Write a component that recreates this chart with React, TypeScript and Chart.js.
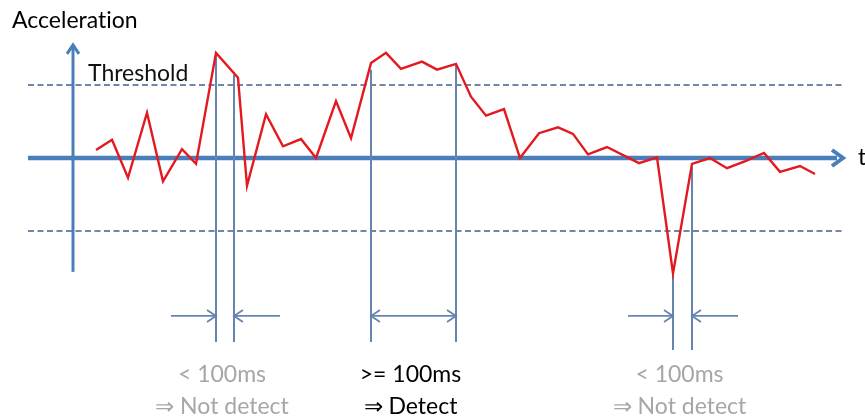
import React, { useEffect, useRef } from "react";
import { Chart, registerables } from "chart.js";

Chart.register(...registerables);

// ---- data ----
const sampleTimes = [23, 39, 55, 74, 90, 109, 123, 143, 165, 174, 193, 210, 228, 243, 263, 278, 298, 313, 328, 349, 364, 383, 398, 413, 431, 447, 466, 485, 500, 515, 534, 566, 584, 600, 619, 637, 654, 673, 691, 707, 727, 742];
const accelValues = [0.11, 0.25, -0.27, 0.62, -0.32, 0.12, -0.08, 1.44, 1.1, -0.38, 0.6, 0.16, 0.26, 0.0, 0.78, 0.27, 1.3, 1.44, 1.22, 1.32, 1.21, 1.29, 0.84, 0.58, 0.67, 0.0, 0.34, 0.42, 0.33, 0.05, 0.15, -0.07, 0.01, -1.58, -0.08, 0.0, -0.14, -0.04, 0.07, -0.19, -0.11, -0.22];
const thresholdLevels = [1, -1];

const windowStart = [143, 298, 600];
const windowEnd = [161, 383, 619];
const windowStartAccel = [1.44, 1.21, -1.58];
const windowEndAccel = [1.14, 1.29, -0.12];
const durationLabels = ["< 100ms", ">= 100ms", "< 100ms"];
const outcomeLabels = ["\u21D2 Not detect", "\u21D2 Detect", "\u21D2 Not detect"];
const detected = [false, true, false];

// ---- layout / style ----
const X_MIN = -73, X_MAX = 792;
const Y_MIN = -3.5616, Y_MAX = 2.1644;
const AXIS_T0 = -45, AXIS_T1 = 768;
const Y_AXIS_LOW = -1.56, Y_AXIS_HIGH = 1.55;
const markerBottoms = [-2.52, -2.52, -2.63];
const arrowLevel = -2.164;
const arrowLead = 45;
const durationLevel = -2.96;
const outcomeLevel = -3.41;
const FONT = "Lato, 'Open Sans', sans-serif";
const AXIS_BLUE = "#4a7ebb";
const MARK_BLUE = "#6684b0";
const DASH_COLOR = "#6f86a6";
const RED = "#e3191f";

type P = { x: number; y: number };
type ArrowSpec = { tip: P; tail: P; len: number; half: number; width: number; color: string };

// break typographic ligatures (e.g. "ti") without changing the text
const noLig = (s: string) => s.replace(/t(?=[ifl])/g, "t\u200C").replace(/f(?=[ifl])/g, "f\u200C");

export default function App() {
  const ref = useRef<HTMLCanvasElement | null>(null);

  useEffect(() => {
    document.body.style.margin = "0";
    const canvas = ref.current;
    if (!canvas) return;

    const seg = (a: P, b: P, color: string, width: number, order: number, dash: number[] = []) => ({
      type: "scatter" as const,
      data: [a, b],
      showLine: true,
      borderColor: color,
      borderWidth: width,
      borderDash: dash,
      pointRadius: 0,
      order,
      tension: 0,
      borderCapStyle: "butt" as const,
    });

    const datasets: any[] = [];
    datasets.push({
      type: "scatter",
      data: sampleTimes.map((t, i) => ({ x: t, y: accelValues[i] })),
      showLine: true,
      borderColor: RED,
      borderWidth: 2.4,
      pointRadius: 0,
      tension: 0,
      order: 0,
      borderJoinStyle: "miter",
    });
    datasets.push(seg({ x: AXIS_T0, y: 0 }, { x: AXIS_T1 - 4, y: 0 }, AXIS_BLUE, 4.5, 6));
    datasets.push(seg({ x: 0, y: Y_AXIS_LOW }, { x: 0, y: Y_AXIS_HIGH - 0.03 }, AXIS_BLUE, 3, 6));
    thresholdLevels.forEach((lv) => {
      datasets.push(seg({ x: AXIS_T0, y: lv }, { x: AXIS_T1 + 3, y: lv }, DASH_COLOR, 1.8, 7, [6, 3.5]));
    });

    const arrows: ArrowSpec[] = [
      { tip: { x: AXIS_T1 + 2, y: 0 }, tail: { x: AXIS_T0, y: 0 }, len: 11, half: 8, width: 4, color: AXIS_BLUE },
      { tip: { x: 0, y: Y_AXIS_HIGH }, tail: { x: 0, y: Y_AXIS_LOW }, len: 9, half: 6, width: 3, color: AXIS_BLUE },
    ];

    windowStart.forEach((s, i) => {
      const e = windowEnd[i];
      const bottom = markerBottoms[i];
      datasets.push(seg({ x: s, y: windowStartAccel[i] }, { x: s, y: bottom }, MARK_BLUE, 2, 3));
      datasets.push(seg({ x: e, y: windowEndAccel[i] }, { x: e, y: bottom }, MARK_BLUE, 2, 3));
      if (detected[i]) {
        datasets.push(seg({ x: s, y: arrowLevel }, { x: e, y: arrowLevel }, MARK_BLUE, 1.8, 3));
        arrows.push({ tip: { x: s, y: arrowLevel }, tail: { x: e, y: arrowLevel }, len: 9, half: 6, width: 1.8, color: MARK_BLUE });
        arrows.push({ tip: { x: e, y: arrowLevel }, tail: { x: s, y: arrowLevel }, len: 9, half: 6, width: 1.8, color: MARK_BLUE });
      } else {
        datasets.push(seg({ x: s - arrowLead, y: arrowLevel }, { x: s, y: arrowLevel }, MARK_BLUE, 1.8, 3));
        datasets.push(seg({ x: e + arrowLead + 1, y: arrowLevel }, { x: e, y: arrowLevel }, MARK_BLUE, 1.8, 3));
        arrows.push({ tip: { x: s, y: arrowLevel }, tail: { x: s - arrowLead, y: arrowLevel }, len: 9, half: 6, width: 1.8, color: MARK_BLUE });
        arrows.push({ tip: { x: e, y: arrowLevel }, tail: { x: e + arrowLead, y: arrowLevel }, len: 9, half: 6, width: 1.8, color: MARK_BLUE });
      }
    });

    type TextSpec = { text: string; x: number; y: number; align: CanvasTextAlign; color: string; size: number };
    const texts: TextSpec[] = [
      { text: "Acceleration", x: -61, y: 1.88, align: "left", color: "#000", size: 23 },
      { text: "Threshold", x: 15, y: 1.15, align: "left", color: "#111", size: 23 },
      { text: "t", x: 785, y: 0, align: "left", color: "#000", size: 23 },
    ];
    windowStart.forEach((s, i) => {
      const c = (s + windowEnd[i]) / 2 - 3;
      const col = detected[i] ? "#000" : "#a6a6a6";
      texts.push({ text: durationLabels[i], x: c, y: durationLevel, align: "center", color: col, size: 23 });
      texts.push({ text: outcomeLabels[i], x: c, y: outcomeLevel, align: "center", color: col, size: 23 });
    });

    const overlay = {
      id: "overlay",
      afterDatasetsDraw(chart: any) {
        const ctx: CanvasRenderingContext2D = chart.ctx;
        const xs = chart.scales.x, ys = chart.scales.y;
        const px = (p: P) => ({ x: xs.getPixelForValue(p.x), y: ys.getPixelForValue(p.y) });
        ctx.save();
        arrows.forEach((a) => {
          const tip = px(a.tip), tail = px(a.tail);
          const dx = tip.x - tail.x, dy = tip.y - tail.y;
          const L = Math.hypot(dx, dy) || 1;
          const ux = dx / L, uy = dy / L;
          const nx = -uy, ny = ux;
          const bx = tip.x - ux * a.len, by = tip.y - uy * a.len;
          ctx.beginPath();
          ctx.moveTo(bx + nx * a.half, by + ny * a.half);
          ctx.lineTo(tip.x, tip.y);
          ctx.lineTo(bx - nx * a.half, by - ny * a.half);
          ctx.strokeStyle = a.color;
          ctx.lineWidth = a.width;
          ctx.lineJoin = "miter";
          ctx.lineCap = "butt";
          ctx.stroke();
        });
        texts.forEach((t) => {
          const p = px({ x: t.x, y: t.y });
          ctx.font = `${t.size}px ${FONT}`;
          ctx.fillStyle = t.color;
          ctx.textAlign = t.align;
          ctx.textBaseline = "middle";
          ctx.fillText(noLig(t.text), p.x, p.y);
        });
        ctx.restore();
      },
    };

    const chart = new Chart(canvas, {
      type: "scatter",
      data: { datasets },
      options: {
        animation: false,
        responsive: false,
        layout: { padding: 0 },
        plugins: { legend: { display: false }, tooltip: { enabled: false } },
        scales: {
          x: { type: "linear", min: X_MIN, max: X_MAX, display: false },
          y: { type: "linear", min: Y_MIN, max: Y_MAX, display: false },
        },
      },
      plugins: [overlay],
    });
    return () => chart.destroy();
  }, []);

  return (
    <div style={{ width: 865, height: 418, background: "#fff" }}>
      <canvas ref={ref} width={865} height={418} />
    </div>
  );
}
